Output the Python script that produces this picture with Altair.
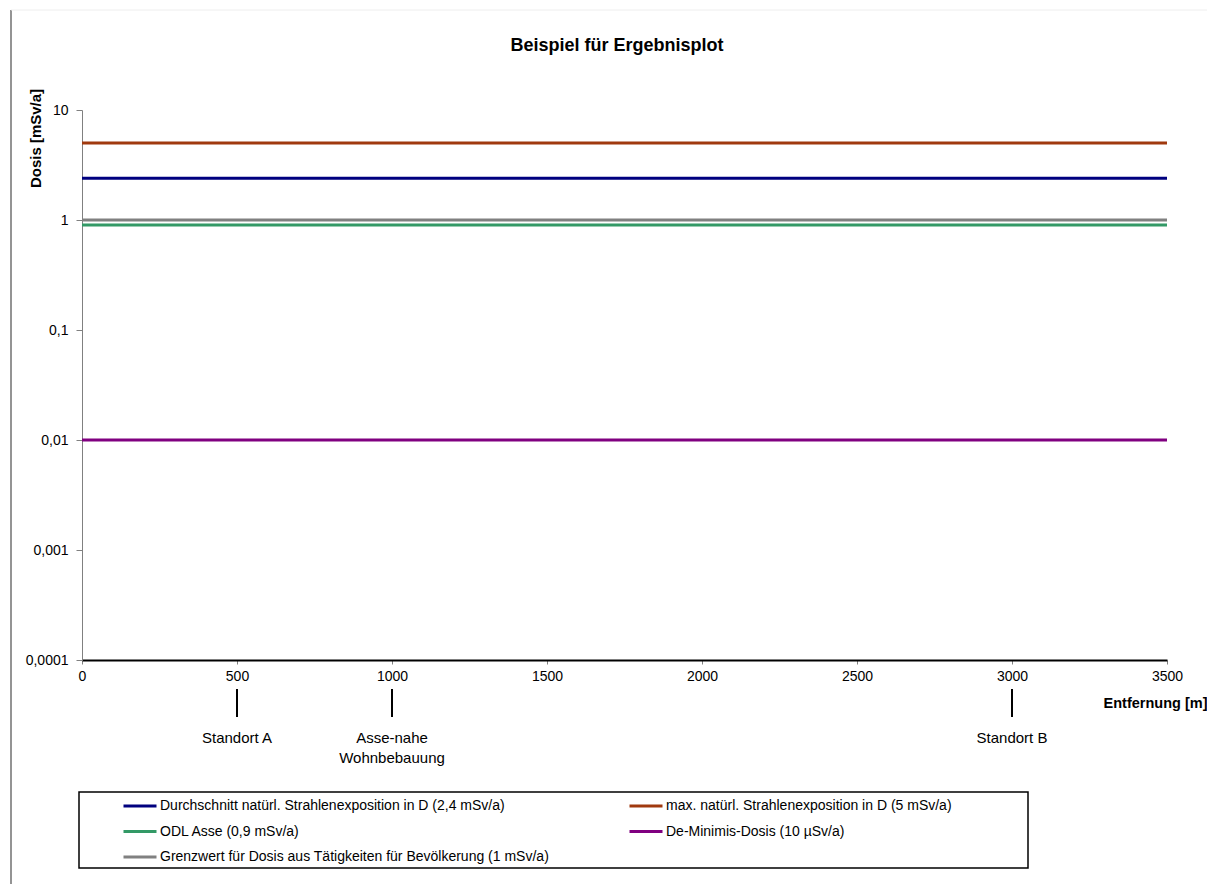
import altair as alt
import pandas as pd

# ---- data ----
series = [
    "Durchschnitt natürl. Strahlenexposition in D (2,4 mSv/a)",
    "max. natürl. Strahlenexposition in D (5 mSv/a)",
    "ODL Asse (0,9 mSv/a)",
    "De-Minimis-Dosis (10 µSv/a)",
    "Grenzwert für Dosis aus Tätigkeiten für Bevölkerung (1 mSv/a)",
]
doses = [2.4, 5, 0.9, 0.01, 1]
colors = ["#00007f", "#a0390e", "#339966", "#800080", "#808080"]
# legend entries fill column by column: left column first, then right column
legend_order = [0, 2, 4, 1, 3]
x_span = [0, 3500]
site_pos = [500, 1000, 3000]
site_labels = ["Standort A", "Asse-nahe\nWohnbebauung", "Standort B"]
x_ticks = [0, 500, 1000, 1500, 2000, 2500, 3000, 3500]
y_ticks = [0.0001, 0.001, 0.01, 0.1, 1, 10]

FONT = "Liberation Sans"
W, H = 1085, 550

rows = []
for s, d in zip(series, doses):
    for xv in x_span:
        rows.append({"series": s, "x": xv, "dose": d})
lines_df = pd.DataFrame(rows)
sites_df = pd.DataFrame({"x": site_pos, "label": site_labels})

xscale = alt.Scale(domain=x_span, nice=False)
yscale = alt.Scale(type="log", domain=[y_ticks[0], y_ticks[-1]], nice=False)

lines = alt.Chart(lines_df).mark_line(strokeWidth=3).encode(
    x=alt.X("x:Q", scale=xscale, axis=alt.Axis(
        values=x_ticks, format="d", title="Entfernung [m]", grid=False,
        domainColor="black", domainWidth=2, tickColor="#808080", tickSize=4,
        labelFont=FONT, labelFontSize=14, labelColor="black", labelPadding=5,
        labelFlush=False,
        titleFont=FONT, titleFontSize=14.5, titleFontWeight="bold", titleColor="black",
        titleX=1125, titleY=43, titleAlign="right", titleBaseline="middle",
        titleAnchor="end")),
    y=alt.Y("dose:Q", scale=yscale, axis=alt.Axis(
        values=y_ticks, title="Dosis [mSv/a]", grid=False,
        labelExpr="replace(toString(datum.value), '.', ',')",
        domainColor="#808080", domainWidth=1, tickColor="#808080", tickSize=6,
        labelFont=FONT, labelFontSize=14, labelColor="black", labelPadding=8,
        labelFlush=False,
        titleFont=FONT, titleFontSize=15, titleFontWeight="bold", titleColor="black",
        titleX=-47, titleY=28, titleAngle=270, titleAlign="center",
        titleBaseline="middle")),
    color=alt.Color("series:N",
                    scale=alt.Scale(domain=[series[i] for i in legend_order],
                                    range=[colors[i] for i in legend_order]),
                    legend=alt.Legend(
                        title=None, orient="none", legendX=40, legendY=678,
                        columns=2, columnPadding=73, rowPadding=0.5, padding=0,
                        symbolType="stroke", symbolSize=1089, symbolStrokeWidth=3,
                        labelFont=FONT, labelFontSize=14, labelColor="black",
                        labelOffset=2, labelLimit=0)),
)

site_ticks = alt.Chart(sites_df).mark_rule(color="black", strokeWidth=2).encode(
    x=alt.X("x:Q", scale=xscale), y=alt.value(579), y2=alt.value(607))

site_text = alt.Chart(sites_df).mark_text(
    font=FONT, fontSize=15, color="black", baseline="top", align="center",
    lineBreak="\n", lineHeight=20).encode(
    x=alt.X("x:Q", scale=xscale), y=alt.value(621), text="label:N")

title_df = pd.DataFrame({"t": ["Beispiel für Ergebnisplot"]})
title = alt.Chart(title_df).mark_text(
    font=FONT, fontSize=18, fontWeight="bold", color="black",
    baseline="alphabetic", align="center").encode(
    x=alt.value(535), y=alt.value(-59), text="t:N")

legend_box = alt.Chart(title_df).mark_rect(
    fill=None, stroke="black", strokeWidth=1.5).encode(
    x=alt.value(-3), x2=alt.value(946), y=alt.value(682), y2=alt.value(758))

frame_left = alt.Chart(title_df).mark_rule(color="#707070", strokeWidth=1.5).encode(
    x=alt.value(-71), y=alt.value(-100), y2=alt.value(782))
frame_top = alt.Chart(title_df).mark_rule(color="#eeeeee", strokeWidth=1).encode(
    x=alt.value(-71), x2=alt.value(1125), y=alt.value(-100))

chart = alt.layer(frame_left, frame_top, lines, site_ticks, site_text, title,
                  legend_box).properties(
    width=W, height=H,
    autosize=alt.AutoSizeParams(type="none"),
    padding={"left": 74, "top": 102, "right": 40, "bottom": 224},
    background="white",
).configure_view(stroke=None)

chart.save("out.html", embed_options={"renderer": "svg", "actions": False})
